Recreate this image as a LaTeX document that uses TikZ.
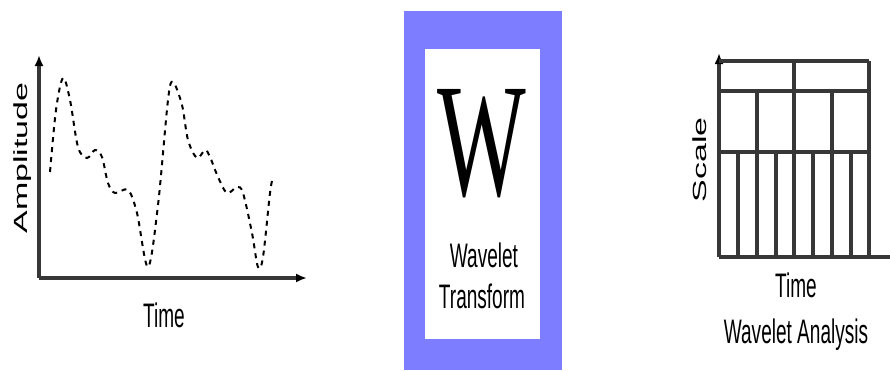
\documentclass[tikz,border=0pt]{standalone}
\usepackage{fontspec}
\setmainfont{Liberation Sans}
\newfontfamily\bigserif{Liberation Serif}
\usetikzlibrary{arrows.meta}
\definecolor{frameblue}{RGB}{125,125,255}
\definecolor{axisgray}{RGB}{55,55,55}
\newcommand{\squeeze}[1]{\scalebox{0.56}[1]{#1}}
\newcommand{\squeezeup}[1]{\scalebox{1}[0.56]{#1}}

\begin{document}
\begin{tikzpicture}[x=1pt, y=-1pt,
  axis/.style={axisgray, line width=3.5pt, -{Latex[length=11pt,width=9pt,black]}},
  cell/.style={axisgray, line width=3.5pt},
  label/.style={inner sep=0pt, font=\fontsize{34}{40}\selectfont}]
  \useasboundingbox (0,0) rectangle (890,370);

  % signal against time
  \coordinate (O1) at (39,278);
  \coordinate (Y1) at (39,55);
  \coordinate (X1) at (307,278);
  \draw[axis] (O1) -- (Y1);
  \draw[axis] (O1) -- (X1);
  \draw[black, line width=2pt, dash pattern=on 5pt off 5pt]
    plot[smooth, tension=0.55] coordinates {
      (50,172) (56,110) (63,78) (70,100) (78,147) (87,158) (95,150)
      (102,157) (108,183) (115,193) (128,190) (137,213) (148,267)
      (158,205) (168,100) (173,82) (182,105) (188,140) (197,158)
      (205,150) (210,157) (218,177) (227,193) (237,187) (243,193)
      (252,233) (258,267) (263,257) (270,193) (273,177)};
  \node[label, rotate=90] (amp) at (23,158) {\squeezeup{Amplitude}};
  \node[label, anchor=base] (time1) at (164,327) {\squeeze{Time}};

  % transform box
  \fill[frameblue] (404,11) rectangle (562,370);
  \fill[white] (425,49) rectangle (540,339);
  \node[inner sep=0pt, anchor=base, font=\bigserif\fontsize{162}{170}\selectfont]
    (w) at (482,195) {\scalebox{0.58}[1]{W}};
  \node[label, anchor=base] (wav) at (484,267) {\squeeze{Wavelet}};
  \node[label, anchor=base] (tra) at (482,308) {\squeeze{Transform}};

  % scale against time
  \coordinate (O2) at (719,257);
  \coordinate (Y2) at (719,53);
  \coordinate (X2) at (890,257);
  \draw[axis] (O2) -- (Y2);
  \draw[cell] (O2) -- (X2);
  \foreach \y in {61,91,152}
    \draw[cell] (719,\y) -- (869,\y);
  \foreach \x in {794,869}
    \draw[cell] (\x,61) -- (\x,257);
  \foreach \x in {757,832}
    \draw[cell] (\x,91) -- (\x,257);
  \foreach \x in {738,776,813,851}
    \draw[cell] (\x,152) -- (\x,257);
  \node[label, rotate=90] (scl) at (700,160) {\squeezeup{Scale}};
  \node[label, anchor=base] (time2) at (796,297) {\squeeze{Time}};
  \node[label, anchor=base] (ana) at (796,343) {\squeeze{Wavelet Analysis}};
\end{tikzpicture}
\end{document}
